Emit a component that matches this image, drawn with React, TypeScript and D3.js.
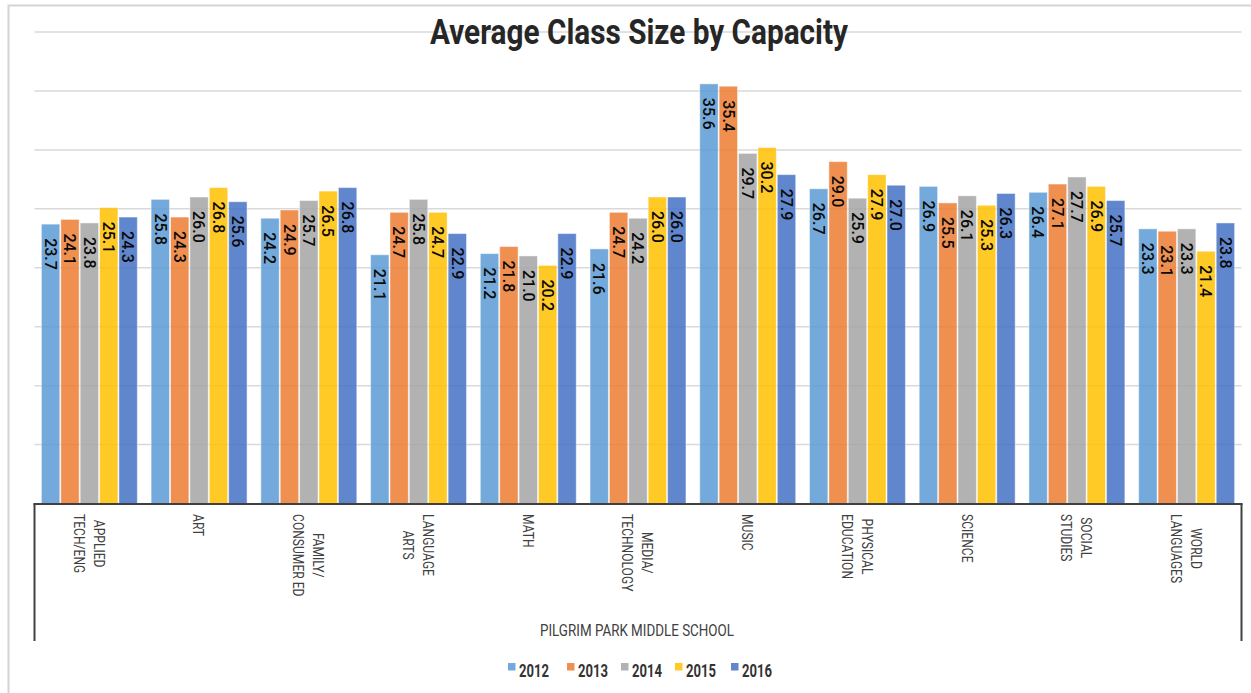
import React, { useEffect, useRef } from "react";
import * as d3 from "d3";

const categories: string[][] = [
  ["APPLIED", "TECH/ENG"],
  ["ART"],
  ["FAMILY/", "CONSUMER ED"],
  ["LANGUAGE", "ARTS"],
  ["MATH"],
  ["MEDIA/", "TECHNOLOGY"],
  ["MUSIC"],
  ["PHYSICAL", "EDUCATION"],
  ["SCIENCE"],
  ["SOCIAL", "STUDIES"],
  ["WORLD", "LANGUAGES"],
];
const years = ["2012", "2013", "2014", "2015", "2016"];
const colors = ["#5B9BD5", "#ED7D31", "#A5A5A5", "#FFC000", "#4472C4"];
const v2012 = [23.7, 25.8, 24.2, 21.1, 21.2, 21.6, 35.6, 26.7, 26.9, 26.4, 23.3];
const v2013 = [24.1, 24.3, 24.9, 24.7, 21.8, 24.7, 35.4, 29.0, 25.5, 27.1, 23.1];
const v2014 = [23.8, 26.0, 25.7, 25.8, 21.0, 24.2, 29.7, 25.9, 26.1, 27.7, 23.3];
const v2015 = [25.1, 26.8, 26.5, 24.7, 20.2, 26.0, 30.2, 27.9, 25.3, 26.9, 21.4];
const v2016 = [24.3, 25.6, 26.8, 22.9, 22.9, 26.0, 27.9, 27.0, 26.3, 25.7, 23.8];
const series = [v2012, v2013, v2014, v2015, v2016];
const gridTicks = [5, 10, 15, 20, 25, 30, 35, 40];
const title = "Average Class Size by Capacity";
const groupTitle = "PILGRIM PARK MIDDLE SCHOOL";

export default function App() {
  const ref = useRef<SVGSVGElement>(null);
  useEffect(() => {
    const svg = d3.select(ref.current);
    svg.selectAll("*").remove();
    const left = 34.5, right = 1241.5, base = 503.5;
    const catKeys = categories.map((c) => c.join(" "));
    const x0 = d3.scaleBand<string>().domain(catKeys).range([left, right]).padding(0);
    const x1 = d3.scaleBand<string>().domain(years).range([0, x0.bandwidth()]).paddingInner(0).paddingOuter(0.33);
    const y = d3.scaleLinear().domain([0, 40]).range([base, 32]);

    // outer frame
    svg.append("rect").attr("x", 8.5).attr("y", 5.5).attr("width", 1300).attr("height", 720)
      .attr("fill", "#fff").attr("stroke", "#d4d4d4").attr("stroke-width", 2);

    // gridlines
    svg.append("g").selectAll("line").data(gridTicks).join("line")
      .attr("x1", left).attr("x2", right)
      .attr("y1", (d) => y(d)).attr("y2", (d) => y(d))
      .attr("stroke", "#d9d9d9").attr("stroke-width", 1.5);

    // title
    svg.append("text").attr("x", 639).attr("y", 44).attr("text-anchor", "middle")
      .attr("font-family", "Roboto, sans-serif").attr("font-weight", 700).attr("font-size", 35)
      .attr("fill", "#262626").attr("textLength", 418).attr("lengthAdjust", "spacingAndGlyphs")
      .text(title);

    // bars
    const g = svg.append("g");
    categories.forEach((cat, ci) => {
      const key = catKeys[ci];
      const gx = x0(key)!;
      years.forEach((yr, si) => {
        const v = series[si][ci];
        const bx = gx + x1(yr)!;
        const bw = x1.bandwidth();
        g.append("rect").attr("x", bx + 0.5).attr("y", y(v)).attr("width", bw - 1)
          .attr("height", base - y(v)).attr("fill", colors[si]).attr("fill-opacity", 0.85)
          .attr("stroke", "#ffffff").attr("stroke-opacity", 0.45).attr("stroke-width", 1);
        g.append("text")
          .attr("transform", `translate(${bx + bw / 2},${y(v) + 14}) rotate(90)`)
          .attr("dy", "0.36em")
          .attr("font-family", "Roboto, sans-serif").attr("font-weight", 500).attr("font-size", 16)
          .attr("fill", "#0a0a0a").text(v.toFixed(1));
      });
    });

    // axis box
    const axis = svg.append("g").attr("stroke", "#404040").attr("stroke-width", 2).attr("fill", "none");
    axis.append("line").attr("x1", left - 1).attr("x2", right + 1).attr("y1", base + 0.5).attr("y2", base + 0.5);
    axis.append("line").attr("x1", left).attr("x2", left).attr("y1", base).attr("y2", 641);
    axis.append("line").attr("x1", right).attr("x2", right).attr("y1", base).attr("y2", 641);

    // category labels
    const sx = 0.78;
    categories.forEach((lines, ci) => {
      const cx = x0(catKeys[ci])! + x0.bandwidth() / 2;
      const tg = svg.append("g");
      const t = tg.append("text").attr("font-family", "Roboto, sans-serif").attr("font-size", 15.5)
        .attr("fill", "#404040").attr("text-anchor", "middle");
      const n = lines.length;
      lines.forEach((ln, li) => {
        t.append("tspan").attr("x", 0).attr("y", (li - (n - 1) / 2) * 20).attr("dy", "0.36em").text(ln);
      });
      let maxLen = 0;
      t.selectAll<SVGTSpanElement, unknown>("tspan").each(function () {
        maxLen = Math.max(maxLen, this.getComputedTextLength());
      });
      const cy = 514 + (maxLen * sx) / 2;
      tg.attr("transform", `translate(${cx},${cy}) rotate(90) scale(${sx},1)`);
    });

    // group title
    svg.append("text").attr("x", 637).attr("y", 636).attr("text-anchor", "middle")
      .attr("font-family", "Roboto, sans-serif").attr("font-size", 16.5).attr("fill", "#404040")
      .attr("textLength", 194).attr("lengthAdjust", "spacingAndGlyphs").text(groupTitle);

    // legend
    const lx = [508, 567, 621, 675, 731];
    years.forEach((yr, i) => {
      svg.append("rect").attr("x", lx[i]).attr("y", 663).attr("width", 7.5).attr("height", 7.5)
        .attr("fill", colors[i]).attr("fill-opacity", 0.85);
      svg.append("text").attr("x", lx[i] + 11).attr("y", 677)
        .attr("font-family", "Roboto, sans-serif").attr("font-weight", 700).attr("font-size", 17.5)
        .attr("fill", "#333").attr("textLength", 30).attr("lengthAdjust", "spacingAndGlyphs").text(yr);
    });
  }, []);
  return (
    <svg ref={ref} width={1251} height={693}
      style={{ position: "absolute", left: 0, top: 0, display: "block", background: "#fff" }} />
  );
}
